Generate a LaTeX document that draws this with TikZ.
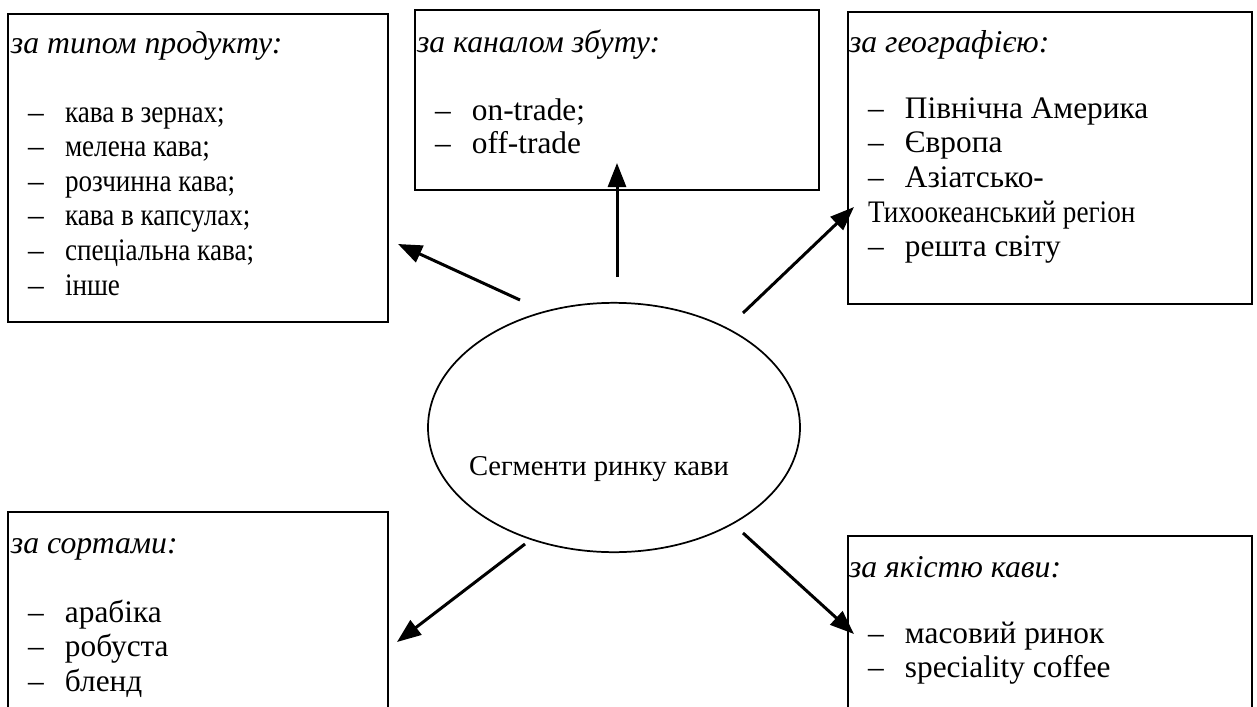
\documentclass[tikz,border=0pt]{standalone}
\usepackage{fontspec}
\usepackage{graphicx}
\setmainfont{Liberation Serif}
\usetikzlibrary{shapes.geometric,arrows.meta}
\newcommand{\itm}[1]{\makebox[27.75pt][l]{–}#1}
\newcommand{\cond}[1]{\scalebox{0.866}[1]{#1}}
\begin{document}
\begin{tikzpicture}[x=0.75pt,y=-0.75pt,
  box/.style={draw,line width=1.5pt,rectangle,inner sep=0pt,outer sep=0pt},
  txt/.style={anchor=base west,inner sep=0pt,outer sep=0pt,font=\fontsize{23.5}{28}\selectfont},
  ttl/.style={txt,font=\fontsize{23.8}{28}\selectfont\itshape},
  ctxt/.style={txt,font=\fontsize{21.5}{26}\selectfont},
  arr/.style={line width=2.25pt,-{Triangle[length=18pt,width=13.5pt]}}]
\useasboundingbox (0,0) rectangle (1257,707);
% boxes
\node[box,minimum width=285pt,minimum height=231pt] (b1) at (198,168) {};
\node[box,minimum width=303pt,minimum height=135pt] (b2) at (617,100) {};
\node[box,minimum width=303pt,minimum height=219pt] (b3) at (1050,158) {};
\node[box,minimum width=285pt,minimum height=156pt] (b4) at (198,616) {};
\node[box,minimum width=303pt,minimum height=138pt] (b5) at (1050,628) {};
\node[draw,ellipse,line width=1.3pt,inner sep=0pt,outer sep=0pt,minimum width=279pt,minimum height=187pt] (seg) at (614,427.5) {};
\node[ctxt] (segt) at (469,475) {Сегменти ринку кави};
% box 1
\node[ttl] (t1) at (11,53) {за типом продукту:};
\node[txt] (i11) at (28,122) {\itm{\cond{кава в зернах;}}};
\node[txt] (i12) at (28,156.6) {\itm{\cond{мелена кава;}}};
\node[txt] (i13) at (28,191.2) {\itm{\cond{розчинна кава;}}};
\node[txt] (i14) at (28,225.8) {\itm{\cond{кава в капсулах;}}};
\node[txt] (i15) at (28,260.4) {\itm{\cond{спеціальна кава;}}};
\node[txt] (i16) at (28,295) {\itm{\cond{інше}}};
% box 2
\node[ttl] (t2) at (417,52) {за каналом збуту:};
\node[txt] (i21) at (435,120) {\itm{on-trade;}};
\node[txt] (i22) at (435,153) {\itm{off-trade}};
% box 3
\node[ttl] (t3) at (849,52) {за географією:};
\node[txt] (i31) at (868,118) {\itm{Північна Америка}};
\node[txt] (i32) at (868,152.7) {\itm{Європа}};
\node[txt] (i33) at (868,187.4) {\itm{Азіатсько-}};
\node[txt] (i34) at (868,222.1) {\cond{Тихоокеанський регіон}};
\node[txt] (i35) at (868,256.8) {\itm{решта світу}};
% box 4
\node[ttl] (t4) at (11,553) {за сортами:};
\node[txt] (i41) at (28,622) {\itm{арабіка}};
\node[txt] (i42) at (28,656.6) {\itm{робуста}};
\node[txt] (i43) at (28,691.2) {\itm{бленд}};
% box 5
\node[ttl] (t5) at (849,577) {за якістю кави:};
\node[txt] (i51) at (868,643) {\itm{масовий ринок}};
\node[txt] (i52) at (868,677) {\itm{speciality coffee}};
% arrow ends
\coordinate (s1) at (520,300); \coordinate (e1) at (398,244);
\coordinate (s2) at (617,277); \coordinate (e2) at (617,163);
\coordinate (s3) at (743,313); \coordinate (e3) at (854,207);
\coordinate (s4) at (525,544); \coordinate (e4) at (397,642);
\coordinate (s5) at (743,533); \coordinate (e5) at (854,634);
\draw[arr] (s1) -- (e1);
\draw[arr] (s2) -- (e2);
\draw[arr] (s3) -- (e3);
\draw[arr] (s4) -- (e4);
\draw[arr] (s5) -- (e5);
\end{tikzpicture}
\end{document}
